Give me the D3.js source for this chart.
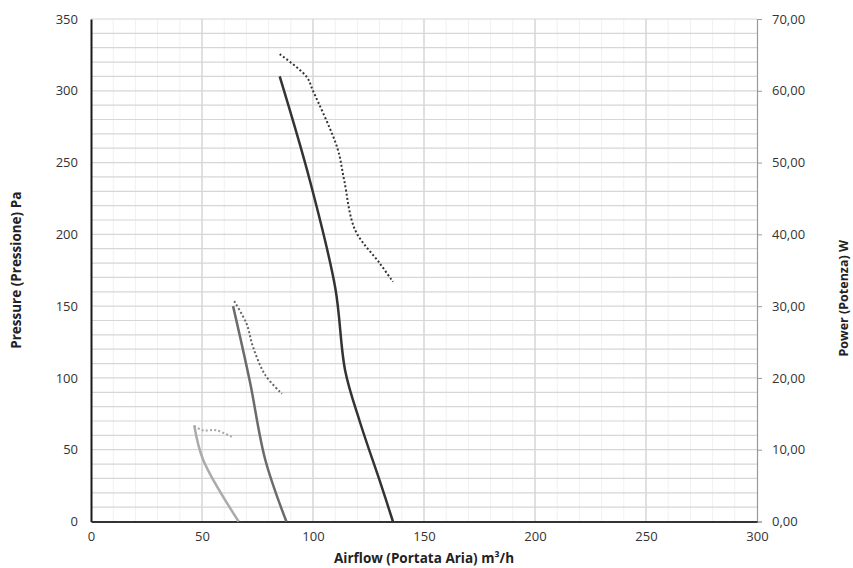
<!DOCTYPE html>
<html>
<head>
<meta charset="utf-8">
<script src="https://cdn.jsdelivr.net/npm/d3@7"></script>
<style>
  html, body { margin: 0; padding: 0; background: #fff; }
  svg { display: block; font-family: "Open Sans", "Liberation Sans", sans-serif; }
</style>
</head>
<body>
<svg id="chart" width="853" height="568"></svg>
<script>
// Fan curves: airflow (m³/h) vs pressure (Pa) and absorbed power (W), three speeds
const airflowHigh = [85, 98.5, 110, 114.5, 121, 131, 136];
const pressureHigh = [310, 238, 163, 105, 70, 24, 0];
const powerAirflowHigh = [85, 97, 100, 111, 114, 119, 130, 136];
const powerHigh = [65.1, 62, 60, 52, 47.6, 40.6, 36, 33.4];

const airflowMid = [64, 71.5, 78.5, 88];
const pressureMid = [150, 98, 43, 0];
const powerAirflowMid = [64.5, 70, 73, 78.5, 86];
const powerMid = [30.7, 27.6, 24.3, 20.4, 17.8];

const airflowLow = [46.5, 50.5, 66.5];
const pressureLow = [67, 43, 0];
const powerAirflowLow = [46.5, 50.5, 56.5, 64];
const powerLow = [13.3, 12.7, 12.7, 11.7];

const xTicks = [0, 50, 100, 150, 200, 250, 300];
const pressureTicks = [0, 50, 100, 150, 200, 250, 300, 350];
const powerTicks = [0, 10, 20, 30, 40, 50, 60, 70];

const svg = d3.select("#chart");
const plotLeft = 91, plotRight = 757, plotTop = 19, plotBottom = 521.5;

const x = d3.scaleLinear().domain([0, 300]).range([plotLeft, plotRight]);
const yP = d3.scaleLinear().domain([0, 350]).range([plotBottom, plotTop]);
const yW = d3.scaleLinear().domain([0, 70]).range([plotBottom, plotTop]);

const grid = svg.append("g");

// minor vertical grid (very faint)
grid.append("g").selectAll("line")
  .data(d3.range(10, 300, 10).filter(v => v % 50 !== 0))
  .join("line")
  .attr("x1", d => x(d)).attr("x2", d => x(d))
  .attr("y1", plotTop).attr("y2", plotBottom)
  .attr("stroke", "#f1f1f1").attr("stroke-width", 1);

// horizontal grid every 10 Pa
grid.append("g").selectAll("line")
  .data(d3.range(10, 351, 10))
  .join("line")
  .attr("x1", plotLeft).attr("x2", plotRight)
  .attr("y1", d => yP(d)).attr("y2", d => yP(d))
  .attr("stroke", "#d6d6d6").attr("stroke-width", 1.2);

// major vertical grid
grid.append("g").selectAll("line")
  .data(xTicks.filter(v => v > 0 && v < 300))
  .join("line")
  .attr("x1", d => x(d)).attr("x2", d => x(d))
  .attr("y1", plotTop).attr("y2", plotBottom)
  .attr("stroke", "#d6d6d6").attr("stroke-width", 1.5);

// left axis
const axL = svg.append("g").attr("transform", `translate(${plotLeft},0)`)
  .call(d3.axisLeft(yP).tickValues(pressureTicks).tickSize(0).tickPadding(13).tickFormat(d3.format("d")));
axL.select(".domain").attr("stroke", "#1a1a1a").attr("stroke-width", 2);
axL.selectAll("text").attr("font-size", 13).attr("fill", "#333").attr("font-family", "Open Sans");

// right axis
const axR = svg.append("g").attr("transform", `translate(${plotRight},0)`)
  .call(d3.axisRight(yW).tickValues(powerTicks).tickSize(5).tickPadding(10)
    .tickFormat(d => d3.format(".2f")(d).replace(".", ",")));
axR.select(".domain").attr("stroke", "#999").attr("stroke-width", 1.2);
axR.selectAll(".tick line").attr("stroke", "#999");
axR.selectAll("text").attr("font-size", 13).attr("fill", "#333").attr("font-family", "Open Sans");

// bottom axis
const axB = svg.append("g").attr("transform", `translate(0,${plotBottom})`)
  .call(d3.axisBottom(x).tickValues(xTicks).tickSize(0).tickPadding(10).tickFormat(d3.format("d")));
axB.select(".domain").attr("stroke", "#333").attr("stroke-width", 2);
axB.selectAll("text").attr("font-size", 13).attr("fill", "#333").attr("font-family", "Open Sans");

// axis titles
svg.append("text")
  .attr("x", 424).attr("y", 563)
  .attr("text-anchor", "middle").attr("font-size", 13.5).attr("font-weight", "bold").attr("fill", "#222")
  .text("Airflow (Portata Aria) m³/h");
svg.append("text")
  .attr("transform", `translate(21,${(plotTop + plotBottom) / 2}) rotate(-90)`)
  .attr("text-anchor", "middle").attr("font-size", 13.5).attr("font-weight", "bold").attr("fill", "#222")
  .text("Pressure (Pressione) Pa");
svg.append("text")
  .attr("transform", `translate(848,${(plotTop + plotBottom) / 2 + 28}) rotate(-90)`)
  .attr("text-anchor", "middle").attr("font-size", 12.5).attr("font-weight", "bold").attr("fill", "#222")
  .text("Power (Potenza) W");

// curves
const lineP = d3.line().x(d => x(d[0])).y(d => yP(d[1])).curve(d3.curveCatmullRom.alpha(0.5));
const lineW = d3.line().x(d => x(d[0])).y(d => yW(d[1])).curve(d3.curveCatmullRom.alpha(0.5));
const zip = (a, b) => a.map((v, i) => [v, b[i]]);

const series = [
  { p: zip(airflowLow, pressureLow), w: zip(powerAirflowLow, powerLow), color: "#ababab", dot: "#a8a8a8" },
  { p: zip(airflowMid, pressureMid), w: zip(powerAirflowMid, powerMid), color: "#6b6b6b", dot: "#666" },
  { p: zip(airflowHigh, pressureHigh), w: zip(powerAirflowHigh, powerHigh), color: "#333", dot: "#333" }
];

series.forEach(s => {
  svg.append("path").attr("d", lineP(s.p))
    .attr("fill", "none").attr("stroke", s.color).attr("stroke-width", 2.5).attr("stroke-linejoin", "round");
  svg.append("path").attr("d", lineW(s.w))
    .attr("fill", "none").attr("stroke", s.dot).attr("stroke-width", 2).attr("stroke-dasharray", "2,2.2");
});
</script>
</body>
</html>
